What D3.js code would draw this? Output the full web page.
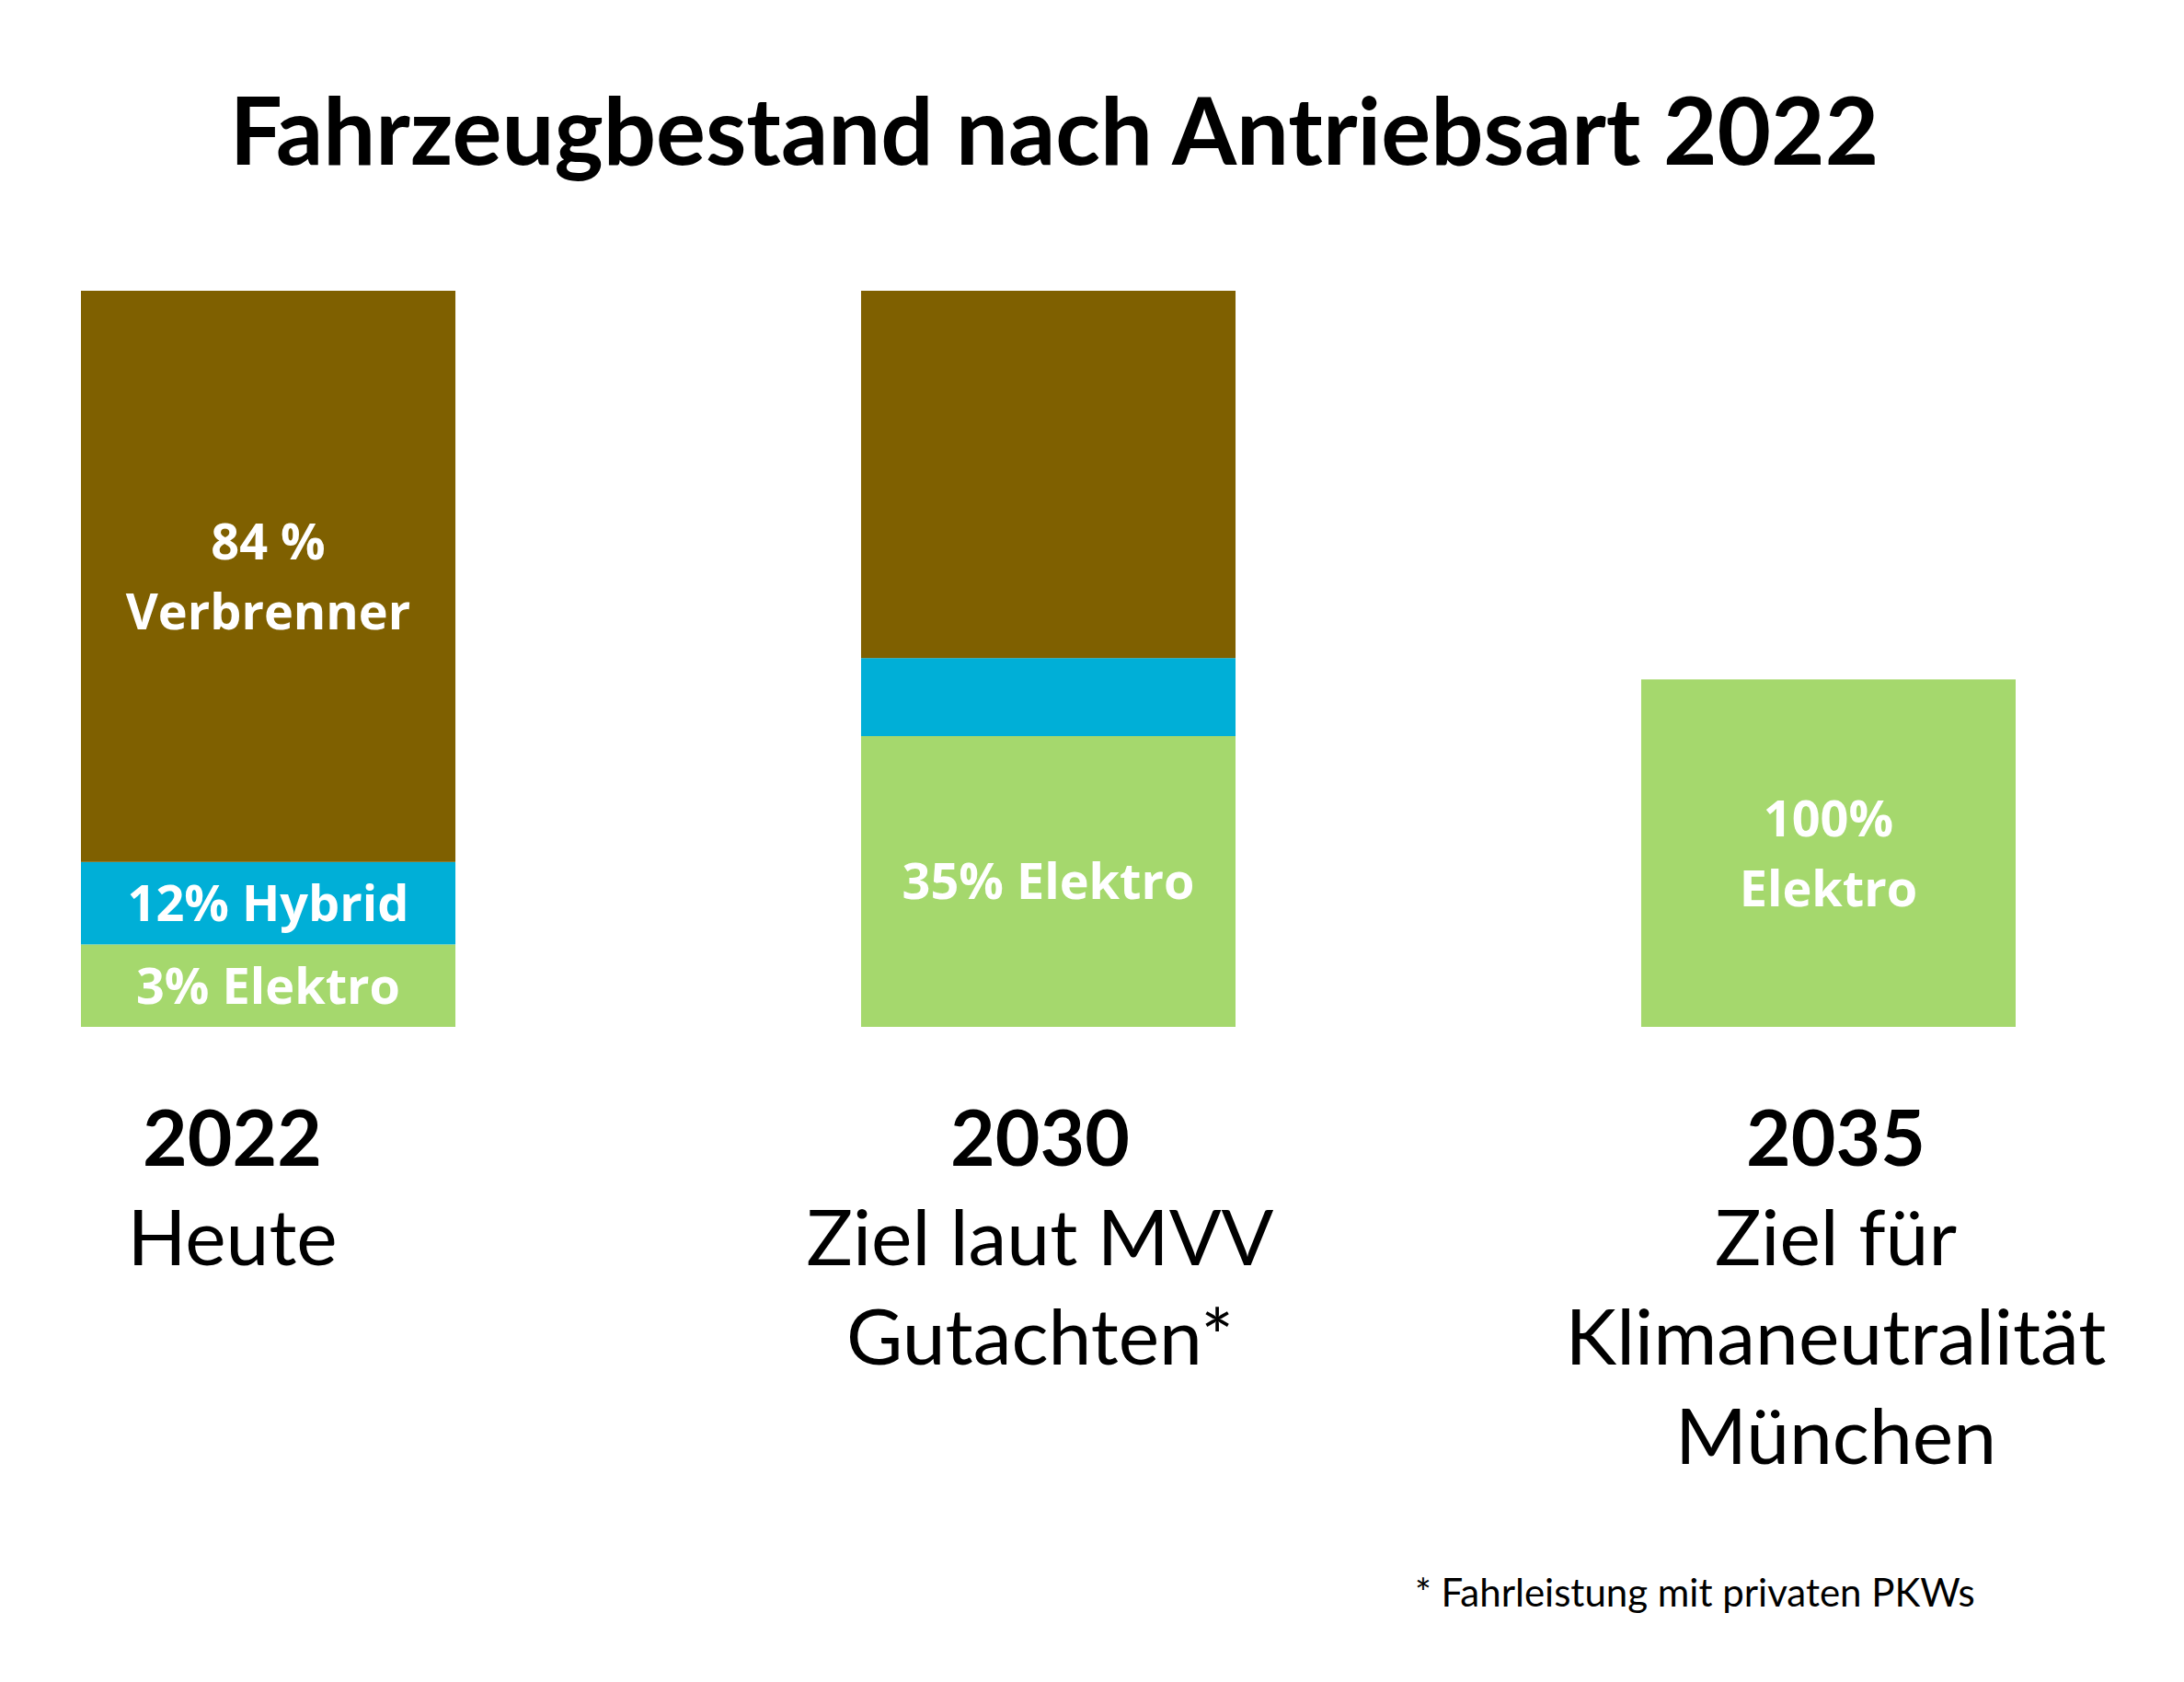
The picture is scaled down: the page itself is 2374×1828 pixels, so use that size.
<!DOCTYPE html>
<html><head><meta charset="utf-8">
<script src="https://cdn.jsdelivr.net/npm/d3@7"></script>
<style>html,body{margin:0;padding:0;background:#fff;} svg{display:block}</style>
</head><body><svg id="chart" width="2374" height="1828"></svg>
<script>
// ---- data ----
const categories = ["2022", "2030", "2035"];
const categorySubtitles = [["Heute"], ["Ziel laut MVV", "Gutachten*"], ["Ziel für", "Klimaneutralität", "München"]];
const seriesNames = ["Elektro", "Hybrid", "Verbrenner"];
// segment heights as drawn in the picture (relative units, 2022 bar = 100)
const elektroValues = [11.2, 39.5, 47.2];
const hybridValues = [11.2, 10.6, 0];
const verbrennerValues = [77.6, 49.9, 0];
const elektroLabels = ["3% Elektro", "35% Elektro", "100%\nElektro"];
const hybridLabels = ["12% Hybrid", "", ""];
const verbrennerLabels = ["84 %\nVerbrenner", "", ""];
const titleText = "Fahrzeugbestand nach Antriebsart 2022";
const footnoteText = "* Fahrleistung mit privaten PKWs";

// ---- build table ----
const table = categories.map((c, i) => ({
  cat: c,
  Elektro: elektroValues[i],
  Hybrid: hybridValues[i],
  Verbrenner: verbrennerValues[i]
}));
const labelsBySeries = { Elektro: elektroLabels, Hybrid: hybridLabels, Verbrenner: verbrennerLabels };
const colors = { Elektro: "#A5D86D", Hybrid: "#00AFD7", Verbrenner: "#7F6000" };

const svg = d3.select("#chart");
svg.append("rect").attr("width", 2374).attr("height", 1828).attr("fill", "#fff");

const x = d3.scaleBand().domain(categories).range([88, 2191]).paddingInner(0.52).paddingOuter(0);
const y = d3.scaleLinear().domain([0, 100]).range([1116, 316]);

const stacked = d3.stack().keys(seriesNames)(table);

const layers = svg.selectAll("g.layer").data(stacked).join("g")
  .attr("class", "layer").attr("fill", d => colors[d.key]);

layers.selectAll("rect").data(d => d.filter(s => s[1] - s[0] > 0)).join("rect")
  .attr("x", d => x(d.data.cat))
  .attr("width", x.bandwidth())
  .attr("y", d => y(d[1]))
  .attr("height", d => y(d[0]) - y(d[1]));

// inner labels
const innerFS = 54, innerLH = 76;
stacked.forEach(layer => {
  layer.forEach((seg, i) => {
    const lab = labelsBySeries[layer.key][i];
    if (!lab || seg[1] - seg[0] <= 0) return;
    const lines = lab.split("\n");
    const cy = (y(seg[0]) + y(seg[1])) / 2;
    const cx = x(seg.data.cat) + x.bandwidth() / 2;
    const t = svg.append("text")
      .attr("text-anchor", "middle")
      .attr("fill", "#fff")
      .attr("font-family", "'Open Sans', sans-serif")
      .attr("font-weight", 700)
      .attr("font-size", innerFS);
    lines.forEach((ln, k) => {
      t.append("tspan")
        .attr("x", cx)
        .attr("y", cy - (lines.length - 1) * innerLH / 2 + k * innerLH + innerFS * 0.36)
        .text(ln);
    });
  });
});

// title
svg.append("text")
  .attr("x", 1146).attr("y", 179)
  .attr("text-anchor", "middle")
  .attr("font-family", "Lato, sans-serif")
  .attr("font-weight", 700)
  .attr("font-size", 101)
  .attr("fill", "#000")
  .text(titleText);

// category labels
const catOffsets = [-39, -9, 8];
const catLH = 108, catBase = 1267, catFS = 84;
categories.forEach((c, i) => {
  const cx = x(c) + x.bandwidth() / 2 + catOffsets[i];
  svg.append("text")
    .attr("x", cx).attr("y", catBase)
    .attr("text-anchor", "middle")
    .attr("font-family", "Lato, sans-serif")
    .attr("font-weight", 700)
    .attr("font-size", catFS)
    .attr("fill", "#000")
    .text(c);
  categorySubtitles[i].forEach((s, k) => {
    svg.append("text")
      .attr("x", cx).attr("y", catBase + catLH * (k + 1))
      .attr("text-anchor", "middle")
      .attr("font-family", "Lato, sans-serif")
      .attr("font-weight", 400)
      .attr("font-size", catFS)
      .attr("fill", "#000")
      .text(s);
  });
});

// footnote
svg.append("text")
  .attr("x", 1538).attr("y", 1746)
  .attr("font-family", "Lato, sans-serif")
  .attr("font-size", 42)
  .attr("fill", "#000")
  .text(footnoteText);
</script>
</body></html>
